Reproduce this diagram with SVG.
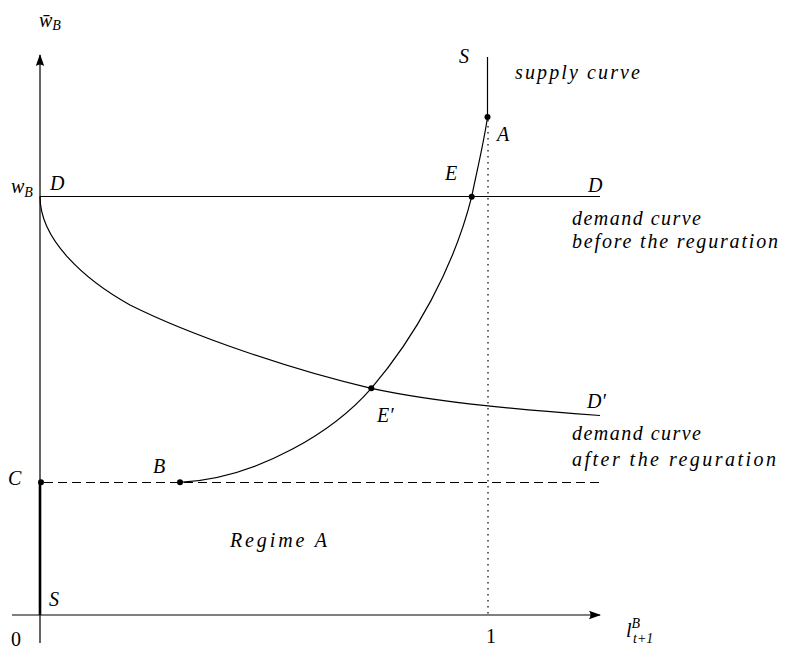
<svg xmlns="http://www.w3.org/2000/svg" width="792" height="649" viewBox="0 0 792 649">
  <style>
    .ln { fill: none; stroke: #000; stroke-width: 1.2; }
    text { font-family: 'Liberation Serif', 'Times New Roman', 'DejaVu Serif', serif; fill: #000; }
    .t { font-style: italic; font-size: 20px; }
    .r { font-size: 20px; }
    .sub { font-size: 14px; }
    .dot { fill: #000; }
  </style>
  <defs>
    <marker id="arr" viewBox="0 0 12 10" refX="11" refY="5" markerWidth="12" markerHeight="10" markerUnits="userSpaceOnUse" orient="auto">
      <path d="M0,0.8 L12,5 L0,9.2 Q3,5 0,0.8 Z" fill="#000"/>
    </marker>
  </defs>

  <g id="axes">
    <line class="ln" x1="40" y1="643" x2="40" y2="55" marker-end="url(#arr)"/>
    <line class="ln" x1="12" y1="615" x2="600" y2="615" marker-end="url(#arr)"/>
    <line x1="40" y1="483" x2="40" y2="615" stroke="#000" stroke-width="2.6"/>
  </g>

  <g id="guides">
    <line class="ln" x1="488" y1="120" x2="488" y2="615" stroke-dasharray="1.5 4.5"/>
    <line class="ln" x1="44" y1="482.5" x2="600" y2="482.5" stroke-dasharray="9 5"/>
  </g>

  <g id="curves">
    <line class="ln" x1="40" y1="196.5" x2="600" y2="196.5"/>
    <line class="ln" x1="487.5" y1="57" x2="487.5" y2="117"/>
    <path class="ln" d="M180,482.3 C260,478 335,430 371.3,388.3 C414.5,337.9 453.7,268.7 471.7,196.7 C476.7,171.7 484,142 487.5,117"/>
    <path class="ln" d="M40,196.5 C40,240 85,280 130,305 C190,335 291.3,370 371.3,388.3 C441.3,403.3 530,410.5 600,415.5"/>
  </g>

  <g id="points">
    <circle class="dot" cx="487.5" cy="117" r="3"/>
    <circle class="dot" cx="471.7" cy="196.7" r="3"/>
    <circle class="dot" cx="371.3" cy="388.3" r="3"/>
    <circle class="dot" cx="180" cy="482.3" r="3"/>
    <circle class="dot" cx="41" cy="482.3" r="3"/>
  </g>

  <g id="labels">
    <text class="t" x="39" y="27">w̄<tspan class="sub" dy="3">B</tspan></text>
    <text class="t" x="11" y="193">w<tspan class="sub" dy="4">B</tspan></text>
    <text class="t" x="50" y="190">D</text>
    <text class="t" x="445" y="180">E</text>
    <text class="t" x="588" y="192">D</text>
    <text class="t" x="572" y="225" textLength="129" lengthAdjust="spacing">demand curve</text>
    <text class="t" x="572" y="248" textLength="206" lengthAdjust="spacing">before the reguration</text>
    <text class="t" x="587" y="408">D′</text>
    <text class="t" x="377" y="422">E′</text>
    <text class="t" x="572" y="440" textLength="129" lengthAdjust="spacing">demand curve</text>
    <text class="t" x="572" y="466" textLength="204" lengthAdjust="spacing">after the reguration</text>
    <text class="t" x="153" y="473">B</text>
    <text class="t" x="8" y="485">C</text>
    <text class="t" x="230" y="547" textLength="97" lengthAdjust="spacing">Regime A</text>
    <text class="t" x="49" y="606">S</text>
    <text class="r" x="11" y="646">0</text>
    <text class="r" x="486" y="643">1</text>
    <text class="t" x="626" y="637">l<tspan class="sub" dy="-9">B</tspan><tspan class="sub" x="633" dy="15">t+1</tspan></text>
    <text class="t" x="459" y="63">S</text>
    <text class="t" x="515" y="79" textLength="125" lengthAdjust="spacing">supply curve</text>
    <text class="t" x="497" y="141">A</text>
  </g>
</svg>
